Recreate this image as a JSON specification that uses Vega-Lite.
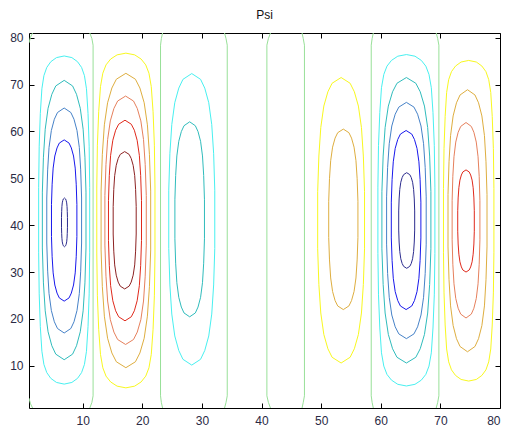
{
"$schema": "https://vega.github.io/schema/vega-lite/v6.json",
"width": 471, "height": 375,
"autosize": {"type": "none"},
"padding": {"left": 29, "top": 33, "right": 5, "bottom": 21},
"background": "white",
"config": {"view": {"stroke": "#000000", "strokeWidth": 1}},
"title": {"text": "Psi", "font": "Liberation Sans", "fontSize": 12, "fontWeight": "normal", "color": "#111111", "offset": 10},
"datasets": {
"c": [
{"k":"A1","v":"m1","x":6.9,"y":76.1},{"k":"A1","v":"m1","x":8.19,"y":75.75},{"k":"A1","v":"m1","x":9.14,"y":74.88},{"k":"A1","v":"m1","x":9.82,"y":73.65},{"k":"A1","v":"m1","x":10.3,"y":71.9},{"k":"A1","v":"m1","x":10.64,"y":69.1},{"k":"A1","v":"m1","x":10.9,"y":63.85},{"k":"A1","v":"m1","x":11.09,"y":56.85},{"k":"A1","v":"m1","x":11.18,"y":48.1},
{"k":"A1","v":"m1","x":11.18,"y":34.1},{"k":"A1","v":"m1","x":11.09,"y":25.35},{"k":"A1","v":"m1","x":10.9,"y":18.35},{"k":"A1","v":"m1","x":10.64,"y":13.1},{"k":"A1","v":"m1","x":10.3,"y":10.3},{"k":"A1","v":"m1","x":9.82,"y":8.55},{"k":"A1","v":"m1","x":9.14,"y":7.32},{"k":"A1","v":"m1","x":8.19,"y":6.45},
{"k":"A1","v":"m1","x":6.9,"y":6.1},
{"k":"A1","v":"m1","x":5.61,"y":6.45},{"k":"A1","v":"m1","x":4.66,"y":7.32},{"k":"A1","v":"m1","x":3.98,"y":8.55},{"k":"A1","v":"m1","x":3.5,"y":10.3},{"k":"A1","v":"m1","x":3.16,"y":13.1},{"k":"A1","v":"m1","x":2.9,"y":18.35},{"k":"A1","v":"m1","x":2.71,"y":25.35},{"k":"A1","v":"m1","x":2.62,"y":34.1},
{"k":"A1","v":"m1","x":2.62,"y":48.1},{"k":"A1","v":"m1","x":2.71,"y":56.85},{"k":"A1","v":"m1","x":2.9,"y":63.85},{"k":"A1","v":"m1","x":3.16,"y":69.1},{"k":"A1","v":"m1","x":3.5,"y":71.9},{"k":"A1","v":"m1","x":3.98,"y":73.65},{"k":"A1","v":"m1","x":4.66,"y":74.88},{"k":"A1","v":"m1","x":5.61,"y":75.75},
{"k":"A1","v":"m1","x":6.9,"y":76.1},

{"k":"A2","v":"m2","x":6.9,"y":70.9},
{"k":"A2","v":"m2","x":8.31,"y":69.71},{"k":"A2","v":"m2","x":8.97,"y":67.92},{"k":"A2","v":"m2","x":9.6,"y":64.94},{"k":"A2","v":"m2","x":10.08,"y":60.47},{"k":"A2","v":"m2","x":10.38,"y":54.51},{"k":"A2","v":"m2","x":10.56,"y":47.06},
{"k":"A2","v":"m2","x":10.56,"y":35.14},{"k":"A2","v":"m2","x":10.38,"y":27.69},{"k":"A2","v":"m2","x":10.08,"y":21.73},{"k":"A2","v":"m2","x":9.6,"y":17.26},{"k":"A2","v":"m2","x":8.97,"y":14.28},{"k":"A2","v":"m2","x":8.31,"y":12.49},
{"k":"A2","v":"m2","x":6.9,"y":11.3},
{"k":"A2","v":"m2","x":5.49,"y":12.49},{"k":"A2","v":"m2","x":4.83,"y":14.28},{"k":"A2","v":"m2","x":4.2,"y":17.26},{"k":"A2","v":"m2","x":3.72,"y":21.73},{"k":"A2","v":"m2","x":3.42,"y":27.69},{"k":"A2","v":"m2","x":3.24,"y":35.14},
{"k":"A2","v":"m2","x":3.24,"y":47.06},{"k":"A2","v":"m2","x":3.42,"y":54.51},{"k":"A2","v":"m2","x":3.72,"y":60.47},{"k":"A2","v":"m2","x":4.2,"y":64.94},{"k":"A2","v":"m2","x":4.83,"y":67.92},{"k":"A2","v":"m2","x":5.49,"y":69.71},
{"k":"A2","v":"m2","x":6.9,"y":70.9},

{"k":"A3","v":"m3","x":6.9,"y":65},
{"k":"A3","v":"m3","x":8.02,"y":64.04},{"k":"A3","v":"m3","x":8.55,"y":62.6},{"k":"A3","v":"m3","x":9.05,"y":60.2},{"k":"A3","v":"m3","x":9.44,"y":56.6},{"k":"A3","v":"m3","x":9.67,"y":51.8},{"k":"A3","v":"m3","x":9.82,"y":45.8},
{"k":"A3","v":"m3","x":9.82,"y":36.2},{"k":"A3","v":"m3","x":9.67,"y":30.2},{"k":"A3","v":"m3","x":9.44,"y":25.4},{"k":"A3","v":"m3","x":9.05,"y":21.8},{"k":"A3","v":"m3","x":8.55,"y":19.4},{"k":"A3","v":"m3","x":8.02,"y":17.96},
{"k":"A3","v":"m3","x":6.9,"y":17},
{"k":"A3","v":"m3","x":5.78,"y":17.96},{"k":"A3","v":"m3","x":5.25,"y":19.4},{"k":"A3","v":"m3","x":4.75,"y":21.8},{"k":"A3","v":"m3","x":4.36,"y":25.4},{"k":"A3","v":"m3","x":4.13,"y":30.2},{"k":"A3","v":"m3","x":3.98,"y":36.2},
{"k":"A3","v":"m3","x":3.98,"y":45.8},{"k":"A3","v":"m3","x":4.13,"y":51.8},{"k":"A3","v":"m3","x":4.36,"y":56.6},{"k":"A3","v":"m3","x":4.75,"y":60.2},{"k":"A3","v":"m3","x":5.25,"y":62.6},{"k":"A3","v":"m3","x":5.78,"y":64.04},
{"k":"A3","v":"m3","x":6.9,"y":65},

{"k":"A4","v":"m4","x":6.9,"y":58.2},
{"k":"A4","v":"m4","x":7.72,"y":57.51},{"k":"A4","v":"m4","x":8.1,"y":56.48},{"k":"A4","v":"m4","x":8.47,"y":54.76},{"k":"A4","v":"m4","x":8.75,"y":52.18},{"k":"A4","v":"m4","x":8.92,"y":48.74},{"k":"A4","v":"m4","x":9.03,"y":44.44},
{"k":"A4","v":"m4","x":9.03,"y":37.56},{"k":"A4","v":"m4","x":8.92,"y":33.26},{"k":"A4","v":"m4","x":8.75,"y":29.82},{"k":"A4","v":"m4","x":8.47,"y":27.24},{"k":"A4","v":"m4","x":8.1,"y":25.52},{"k":"A4","v":"m4","x":7.72,"y":24.49},
{"k":"A4","v":"m4","x":6.9,"y":23.8},
{"k":"A4","v":"m4","x":6.08,"y":24.49},{"k":"A4","v":"m4","x":5.7,"y":25.52},{"k":"A4","v":"m4","x":5.33,"y":27.24},{"k":"A4","v":"m4","x":5.05,"y":29.82},{"k":"A4","v":"m4","x":4.88,"y":33.26},{"k":"A4","v":"m4","x":4.77,"y":37.56},
{"k":"A4","v":"m4","x":4.77,"y":44.44},{"k":"A4","v":"m4","x":4.88,"y":48.74},{"k":"A4","v":"m4","x":5.05,"y":52.18},{"k":"A4","v":"m4","x":5.33,"y":54.76},{"k":"A4","v":"m4","x":5.7,"y":56.48},{"k":"A4","v":"m4","x":6.08,"y":57.51},
{"k":"A4","v":"m4","x":6.9,"y":58.2},

{"k":"A5","v":"m5","x":6.95,"y":45.8},
{"k":"A5","v":"m5","x":7.14,"y":45.59},{"k":"A5","v":"m5","x":7.23,"y":45.28},{"k":"A5","v":"m5","x":7.32,"y":44.76},{"k":"A5","v":"m5","x":7.38,"y":43.98},{"k":"A5","v":"m5","x":7.42,"y":42.94},{"k":"A5","v":"m5","x":7.45,"y":41.64},
{"k":"A5","v":"m5","x":7.45,"y":39.56},{"k":"A5","v":"m5","x":7.42,"y":38.26},{"k":"A5","v":"m5","x":7.38,"y":37.22},{"k":"A5","v":"m5","x":7.32,"y":36.44},{"k":"A5","v":"m5","x":7.23,"y":35.92},{"k":"A5","v":"m5","x":7.14,"y":35.61},
{"k":"A5","v":"m5","x":6.95,"y":35.4},
{"k":"A5","v":"m5","x":6.76,"y":35.61},{"k":"A5","v":"m5","x":6.67,"y":35.92},{"k":"A5","v":"m5","x":6.58,"y":36.44},{"k":"A5","v":"m5","x":6.52,"y":37.22},{"k":"A5","v":"m5","x":6.48,"y":38.26},{"k":"A5","v":"m5","x":6.45,"y":39.56},
{"k":"A5","v":"m5","x":6.45,"y":41.64},{"k":"A5","v":"m5","x":6.48,"y":42.94},{"k":"A5","v":"m5","x":6.52,"y":43.98},{"k":"A5","v":"m5","x":6.58,"y":44.76},{"k":"A5","v":"m5","x":6.67,"y":45.28},{"k":"A5","v":"m5","x":6.76,"y":45.59},
{"k":"A5","v":"m5","x":6.95,"y":45.8},

{"k":"B1","v":"p1","x":17.25,"y":76.7},
{"k":"B1","v":"p1","x":18.72,"y":76.34},{"k":"B1","v":"p1","x":19.8,"y":75.45},{"k":"B1","v":"p1","x":20.58,"y":74.2},{"k":"B1","v":"p1","x":21.12,"y":72.42},{"k":"B1","v":"p1","x":21.51,"y":69.56},{"k":"B1","v":"p1","x":21.81,"y":64.21},{"k":"B1","v":"p1","x":22.03,"y":57.07},{"k":"B1","v":"p1","x":22.13,"y":48.14},
{"k":"B1","v":"p1","x":22.13,"y":33.86},{"k":"B1","v":"p1","x":22.03,"y":24.93},{"k":"B1","v":"p1","x":21.81,"y":17.79},{"k":"B1","v":"p1","x":21.51,"y":12.44},{"k":"B1","v":"p1","x":21.12,"y":9.58},{"k":"B1","v":"p1","x":20.58,"y":7.8},{"k":"B1","v":"p1","x":19.8,"y":6.55},{"k":"B1","v":"p1","x":18.72,"y":5.66},
{"k":"B1","v":"p1","x":17.25,"y":5.3},
{"k":"B1","v":"p1","x":15.78,"y":5.66},{"k":"B1","v":"p1","x":14.7,"y":6.55},{"k":"B1","v":"p1","x":13.92,"y":7.8},{"k":"B1","v":"p1","x":13.38,"y":9.58},{"k":"B1","v":"p1","x":12.99,"y":12.44},{"k":"B1","v":"p1","x":12.69,"y":17.79},{"k":"B1","v":"p1","x":12.47,"y":24.93},{"k":"B1","v":"p1","x":12.37,"y":33.86},
{"k":"B1","v":"p1","x":12.37,"y":48.14},{"k":"B1","v":"p1","x":12.47,"y":57.07},{"k":"B1","v":"p1","x":12.69,"y":64.21},{"k":"B1","v":"p1","x":12.99,"y":69.56},{"k":"B1","v":"p1","x":13.38,"y":72.42},{"k":"B1","v":"p1","x":13.92,"y":74.2},{"k":"B1","v":"p1","x":14.7,"y":75.45},{"k":"B1","v":"p1","x":15.78,"y":76.34},
{"k":"B1","v":"p1","x":17.25,"y":76.7},

{"k":"B2","v":"p2","x":17.25,"y":72.4},
{"k":"B2","v":"p2","x":18.85,"y":71.14},{"k":"B2","v":"p2","x":19.6,"y":69.26},{"k":"B2","v":"p2","x":20.32,"y":66.12},{"k":"B2","v":"p2","x":20.86,"y":61.41},{"k":"B2","v":"p2","x":21.2,"y":55.13},{"k":"B2","v":"p2","x":21.41,"y":47.28},
{"k":"B2","v":"p2","x":21.41,"y":34.72},{"k":"B2","v":"p2","x":21.2,"y":26.87},{"k":"B2","v":"p2","x":20.86,"y":20.59},{"k":"B2","v":"p2","x":20.32,"y":15.88},{"k":"B2","v":"p2","x":19.6,"y":12.74},{"k":"B2","v":"p2","x":18.85,"y":10.86},
{"k":"B2","v":"p2","x":17.25,"y":9.6},
{"k":"B2","v":"p2","x":15.65,"y":10.86},{"k":"B2","v":"p2","x":14.9,"y":12.74},{"k":"B2","v":"p2","x":14.18,"y":15.88},{"k":"B2","v":"p2","x":13.64,"y":20.59},{"k":"B2","v":"p2","x":13.3,"y":26.87},{"k":"B2","v":"p2","x":13.09,"y":34.72},
{"k":"B2","v":"p2","x":13.09,"y":47.28},{"k":"B2","v":"p2","x":13.3,"y":55.13},{"k":"B2","v":"p2","x":13.64,"y":61.41},{"k":"B2","v":"p2","x":14.18,"y":66.12},{"k":"B2","v":"p2","x":14.9,"y":69.26},{"k":"B2","v":"p2","x":15.65,"y":71.14},
{"k":"B2","v":"p2","x":17.25,"y":72.4},

{"k":"B3","v":"p3","x":17.2,"y":67.55},
{"k":"B3","v":"p3","x":18.53,"y":66.49},{"k":"B3","v":"p3","x":19.16,"y":64.9},{"k":"B3","v":"p3","x":19.76,"y":62.25},{"k":"B3","v":"p3","x":20.21,"y":58.28},{"k":"B3","v":"p3","x":20.49,"y":52.98},{"k":"B3","v":"p3","x":20.67,"y":46.35},
{"k":"B3","v":"p3","x":20.67,"y":35.75},{"k":"B3","v":"p3","x":20.49,"y":29.12},{"k":"B3","v":"p3","x":20.21,"y":23.82},{"k":"B3","v":"p3","x":19.76,"y":19.85},{"k":"B3","v":"p3","x":19.16,"y":17.2},{"k":"B3","v":"p3","x":18.53,"y":15.61},
{"k":"B3","v":"p3","x":17.2,"y":14.55},
{"k":"B3","v":"p3","x":15.87,"y":15.61},{"k":"B3","v":"p3","x":15.24,"y":17.2},{"k":"B3","v":"p3","x":14.64,"y":19.85},{"k":"B3","v":"p3","x":14.19,"y":23.82},{"k":"B3","v":"p3","x":13.91,"y":29.12},{"k":"B3","v":"p3","x":13.73,"y":35.75},
{"k":"B3","v":"p3","x":13.73,"y":46.35},{"k":"B3","v":"p3","x":13.91,"y":52.98},{"k":"B3","v":"p3","x":14.19,"y":58.28},{"k":"B3","v":"p3","x":14.64,"y":62.25},{"k":"B3","v":"p3","x":15.24,"y":64.9},{"k":"B3","v":"p3","x":15.87,"y":66.49},
{"k":"B3","v":"p3","x":17.2,"y":67.55},

{"k":"B4","v":"p4","x":17.1,"y":62.4},
{"k":"B4","v":"p4","x":18.16,"y":61.54},{"k":"B4","v":"p4","x":18.67,"y":60.26},{"k":"B4","v":"p4","x":19.14,"y":58.12},{"k":"B4","v":"p4","x":19.51,"y":54.91},{"k":"B4","v":"p4","x":19.73,"y":50.63},{"k":"B4","v":"p4","x":19.87,"y":45.28},
{"k":"B4","v":"p4","x":19.87,"y":36.72},{"k":"B4","v":"p4","x":19.73,"y":31.37},{"k":"B4","v":"p4","x":19.51,"y":27.09},{"k":"B4","v":"p4","x":19.14,"y":23.88},{"k":"B4","v":"p4","x":18.67,"y":21.74},{"k":"B4","v":"p4","x":18.16,"y":20.46},
{"k":"B4","v":"p4","x":17.1,"y":19.6},
{"k":"B4","v":"p4","x":16.04,"y":20.46},{"k":"B4","v":"p4","x":15.53,"y":21.74},{"k":"B4","v":"p4","x":15.06,"y":23.88},{"k":"B4","v":"p4","x":14.69,"y":27.09},{"k":"B4","v":"p4","x":14.47,"y":31.37},{"k":"B4","v":"p4","x":14.33,"y":36.72},
{"k":"B4","v":"p4","x":14.33,"y":45.28},{"k":"B4","v":"p4","x":14.47,"y":50.63},{"k":"B4","v":"p4","x":14.69,"y":54.91},{"k":"B4","v":"p4","x":15.06,"y":58.12},{"k":"B4","v":"p4","x":15.53,"y":60.26},{"k":"B4","v":"p4","x":16.04,"y":61.54},
{"k":"B4","v":"p4","x":17.1,"y":62.4},

{"k":"B5","v":"p5","x":17.05,"y":55.7},
{"k":"B5","v":"p5","x":17.79,"y":55.11},{"k":"B5","v":"p5","x":18.14,"y":54.24},{"k":"B5","v":"p5","x":18.47,"y":52.77},{"k":"B5","v":"p5","x":18.73,"y":50.57},{"k":"B5","v":"p5","x":18.88,"y":47.64},{"k":"B5","v":"p5","x":18.98,"y":43.98},
{"k":"B5","v":"p5","x":18.98,"y":38.12},{"k":"B5","v":"p5","x":18.88,"y":34.46},{"k":"B5","v":"p5","x":18.73,"y":31.53},{"k":"B5","v":"p5","x":18.47,"y":29.33},{"k":"B5","v":"p5","x":18.14,"y":27.86},{"k":"B5","v":"p5","x":17.79,"y":26.99},
{"k":"B5","v":"p5","x":17.05,"y":26.4},
{"k":"B5","v":"p5","x":16.31,"y":26.99},{"k":"B5","v":"p5","x":15.96,"y":27.86},{"k":"B5","v":"p5","x":15.63,"y":29.33},{"k":"B5","v":"p5","x":15.37,"y":31.53},{"k":"B5","v":"p5","x":15.22,"y":34.46},{"k":"B5","v":"p5","x":15.12,"y":38.12},
{"k":"B5","v":"p5","x":15.12,"y":43.98},{"k":"B5","v":"p5","x":15.22,"y":47.64},{"k":"B5","v":"p5","x":15.37,"y":50.57},{"k":"B5","v":"p5","x":15.63,"y":52.77},{"k":"B5","v":"p5","x":15.96,"y":54.24},{"k":"B5","v":"p5","x":16.31,"y":55.11},
{"k":"B5","v":"p5","x":17.05,"y":55.7},

{"k":"C1","v":"m1","x":28.3,"y":72.35},
{"k":"C1","v":"m1","x":29.78,"y":71.11},{"k":"C1","v":"m1","x":30.48,"y":69.24},{"k":"C1","v":"m1","x":31.15,"y":66.13},{"k":"C1","v":"m1","x":31.65,"y":61.47},{"k":"C1","v":"m1","x":31.97,"y":55.25},{"k":"C1","v":"m1","x":32.16,"y":47.47},
{"k":"C1","v":"m1","x":32.16,"y":35.03},{"k":"C1","v":"m1","x":31.97,"y":27.25},{"k":"C1","v":"m1","x":31.65,"y":21.03},{"k":"C1","v":"m1","x":31.15,"y":16.37},{"k":"C1","v":"m1","x":30.48,"y":13.26},{"k":"C1","v":"m1","x":29.78,"y":11.39},
{"k":"C1","v":"m1","x":28.3,"y":10.15},
{"k":"C1","v":"m1","x":26.82,"y":11.39},{"k":"C1","v":"m1","x":26.12,"y":13.26},{"k":"C1","v":"m1","x":25.45,"y":16.37},{"k":"C1","v":"m1","x":24.95,"y":21.03},{"k":"C1","v":"m1","x":24.63,"y":27.25},{"k":"C1","v":"m1","x":24.44,"y":35.03},
{"k":"C1","v":"m1","x":24.44,"y":47.47},{"k":"C1","v":"m1","x":24.63,"y":55.25},{"k":"C1","v":"m1","x":24.95,"y":61.47},{"k":"C1","v":"m1","x":25.45,"y":66.13},{"k":"C1","v":"m1","x":26.12,"y":69.24},{"k":"C1","v":"m1","x":26.82,"y":71.11},
{"k":"C1","v":"m1","x":28.3,"y":72.35},

{"k":"C2","v":"m2","x":27.95,"y":62.05},
{"k":"C2","v":"m2","x":28.9,"y":61.22},{"k":"C2","v":"m2","x":29.35,"y":59.97},{"k":"C2","v":"m2","x":29.78,"y":57.89},{"k":"C2","v":"m2","x":30.1,"y":54.77},{"k":"C2","v":"m2","x":30.3,"y":50.61},{"k":"C2","v":"m2","x":30.43,"y":45.41},
{"k":"C2","v":"m2","x":30.43,"y":37.09},{"k":"C2","v":"m2","x":30.3,"y":31.89},{"k":"C2","v":"m2","x":30.1,"y":27.73},{"k":"C2","v":"m2","x":29.78,"y":24.61},{"k":"C2","v":"m2","x":29.35,"y":22.53},{"k":"C2","v":"m2","x":28.9,"y":21.28},
{"k":"C2","v":"m2","x":27.95,"y":20.45},
{"k":"C2","v":"m2","x":27.0,"y":21.28},{"k":"C2","v":"m2","x":26.55,"y":22.53},{"k":"C2","v":"m2","x":26.12,"y":24.61},{"k":"C2","v":"m2","x":25.8,"y":27.73},{"k":"C2","v":"m2","x":25.6,"y":31.89},{"k":"C2","v":"m2","x":25.47,"y":37.09},
{"k":"C2","v":"m2","x":25.47,"y":45.41},{"k":"C2","v":"m2","x":25.6,"y":50.61},{"k":"C2","v":"m2","x":25.8,"y":54.77},{"k":"C2","v":"m2","x":26.12,"y":57.89},{"k":"C2","v":"m2","x":26.55,"y":59.97},{"k":"C2","v":"m2","x":27.0,"y":61.22},
{"k":"C2","v":"m2","x":27.95,"y":62.05},

{"k":"E1","v":"p1","x":53.35,"y":71.5},
{"k":"E1","v":"p1","x":54.86,"y":70.28},{"k":"E1","v":"p1","x":55.57,"y":68.46},{"k":"E1","v":"p1","x":56.25,"y":65.41},{"k":"E1","v":"p1","x":56.76,"y":60.84},{"k":"E1","v":"p1","x":57.08,"y":54.75},{"k":"E1","v":"p1","x":57.28,"y":47.14},
{"k":"E1","v":"p1","x":57.28,"y":34.96},{"k":"E1","v":"p1","x":57.08,"y":27.35},{"k":"E1","v":"p1","x":56.76,"y":21.26},{"k":"E1","v":"p1","x":56.25,"y":16.69},{"k":"E1","v":"p1","x":55.57,"y":13.64},{"k":"E1","v":"p1","x":54.86,"y":11.82},
{"k":"E1","v":"p1","x":53.35,"y":10.6},
{"k":"E1","v":"p1","x":51.84,"y":11.82},{"k":"E1","v":"p1","x":51.13,"y":13.64},{"k":"E1","v":"p1","x":50.45,"y":16.69},{"k":"E1","v":"p1","x":49.94,"y":21.26},{"k":"E1","v":"p1","x":49.62,"y":27.35},{"k":"E1","v":"p1","x":49.42,"y":34.96},
{"k":"E1","v":"p1","x":49.42,"y":47.14},{"k":"E1","v":"p1","x":49.62,"y":54.75},{"k":"E1","v":"p1","x":49.94,"y":60.84},{"k":"E1","v":"p1","x":50.45,"y":65.41},{"k":"E1","v":"p1","x":51.13,"y":68.46},{"k":"E1","v":"p1","x":51.84,"y":70.28},
{"k":"E1","v":"p1","x":53.35,"y":71.5},

{"k":"E2","v":"p2","x":53.72,"y":60.5},
{"k":"E2","v":"p2","x":54.66,"y":59.73},{"k":"E2","v":"p2","x":55.1,"y":58.58},{"k":"E2","v":"p2","x":55.52,"y":56.65},{"k":"E2","v":"p2","x":55.84,"y":53.76},{"k":"E2","v":"p2","x":56.04,"y":49.91},{"k":"E2","v":"p2","x":56.17,"y":45.1},
{"k":"E2","v":"p2","x":56.17,"y":37.4},{"k":"E2","v":"p2","x":56.04,"y":32.59},{"k":"E2","v":"p2","x":55.84,"y":28.74},{"k":"E2","v":"p2","x":55.52,"y":25.85},{"k":"E2","v":"p2","x":55.1,"y":23.92},{"k":"E2","v":"p2","x":54.66,"y":22.77},
{"k":"E2","v":"p2","x":53.72,"y":22},
{"k":"E2","v":"p2","x":52.78,"y":22.77},{"k":"E2","v":"p2","x":52.34,"y":23.92},{"k":"E2","v":"p2","x":51.92,"y":25.85},{"k":"E2","v":"p2","x":51.6,"y":28.74},{"k":"E2","v":"p2","x":51.4,"y":32.59},{"k":"E2","v":"p2","x":51.27,"y":37.4},
{"k":"E2","v":"p2","x":51.27,"y":45.1},{"k":"E2","v":"p2","x":51.4,"y":49.91},{"k":"E2","v":"p2","x":51.6,"y":53.76},{"k":"E2","v":"p2","x":51.92,"y":56.65},{"k":"E2","v":"p2","x":52.34,"y":58.58},{"k":"E2","v":"p2","x":52.78,"y":59.73},
{"k":"E2","v":"p2","x":53.72,"y":60.5},

{"k":"F1","v":"m1","x":64.3,"y":76.4},
{"k":"F1","v":"m1","x":65.74,"y":76.05},{"k":"F1","v":"m1","x":66.8,"y":75.16},{"k":"F1","v":"m1","x":67.56,"y":73.93},{"k":"F1","v":"m1","x":68.09,"y":72.16},{"k":"F1","v":"m1","x":68.48,"y":69.33},{"k":"F1","v":"m1","x":68.76,"y":64.03},{"k":"F1","v":"m1","x":68.98,"y":56.96},{"k":"F1","v":"m1","x":69.08,"y":48.12},
{"k":"F1","v":"m1","x":69.08,"y":33.98},{"k":"F1","v":"m1","x":68.98,"y":25.14},{"k":"F1","v":"m1","x":68.76,"y":18.07},{"k":"F1","v":"m1","x":68.48,"y":12.77},{"k":"F1","v":"m1","x":68.09,"y":9.94},{"k":"F1","v":"m1","x":67.56,"y":8.17},{"k":"F1","v":"m1","x":66.8,"y":6.94},{"k":"F1","v":"m1","x":65.74,"y":6.05},
{"k":"F1","v":"m1","x":64.3,"y":5.7},
{"k":"F1","v":"m1","x":62.86,"y":6.05},{"k":"F1","v":"m1","x":61.8,"y":6.94},{"k":"F1","v":"m1","x":61.04,"y":8.17},{"k":"F1","v":"m1","x":60.51,"y":9.94},{"k":"F1","v":"m1","x":60.12,"y":12.77},{"k":"F1","v":"m1","x":59.84,"y":18.07},{"k":"F1","v":"m1","x":59.62,"y":25.14},{"k":"F1","v":"m1","x":59.52,"y":33.98},
{"k":"F1","v":"m1","x":59.52,"y":48.12},{"k":"F1","v":"m1","x":59.62,"y":56.96},{"k":"F1","v":"m1","x":59.84,"y":64.03},{"k":"F1","v":"m1","x":60.12,"y":69.33},{"k":"F1","v":"m1","x":60.51,"y":72.16},{"k":"F1","v":"m1","x":61.04,"y":73.93},{"k":"F1","v":"m1","x":61.8,"y":75.16},{"k":"F1","v":"m1","x":62.86,"y":76.05},
{"k":"F1","v":"m1","x":64.3,"y":76.4},

{"k":"F2","v":"m2","x":64.3,"y":71.5},
{"k":"F2","v":"m2","x":65.88,"y":70.28},{"k":"F2","v":"m2","x":66.62,"y":68.46},{"k":"F2","v":"m2","x":67.33,"y":65.41},{"k":"F2","v":"m2","x":67.87,"y":60.84},{"k":"F2","v":"m2","x":68.2,"y":54.75},{"k":"F2","v":"m2","x":68.41,"y":47.14},
{"k":"F2","v":"m2","x":68.41,"y":34.96},{"k":"F2","v":"m2","x":68.2,"y":27.35},{"k":"F2","v":"m2","x":67.87,"y":21.26},{"k":"F2","v":"m2","x":67.33,"y":16.69},{"k":"F2","v":"m2","x":66.62,"y":13.64},{"k":"F2","v":"m2","x":65.88,"y":11.82},
{"k":"F2","v":"m2","x":64.3,"y":10.6},
{"k":"F2","v":"m2","x":62.72,"y":11.82},{"k":"F2","v":"m2","x":61.98,"y":13.64},{"k":"F2","v":"m2","x":61.27,"y":16.69},{"k":"F2","v":"m2","x":60.73,"y":21.26},{"k":"F2","v":"m2","x":60.4,"y":27.35},{"k":"F2","v":"m2","x":60.19,"y":34.96},
{"k":"F2","v":"m2","x":60.19,"y":47.14},{"k":"F2","v":"m2","x":60.4,"y":54.75},{"k":"F2","v":"m2","x":60.73,"y":60.84},{"k":"F2","v":"m2","x":61.27,"y":65.41},{"k":"F2","v":"m2","x":61.98,"y":68.46},{"k":"F2","v":"m2","x":62.72,"y":70.28},
{"k":"F2","v":"m2","x":64.3,"y":71.5},

{"k":"F3","v":"m3","x":64.3,"y":66.2},
{"k":"F3","v":"m3","x":65.57,"y":65.19},{"k":"F3","v":"m3","x":66.18,"y":63.68},{"k":"F3","v":"m3","x":66.75,"y":61.16},{"k":"F3","v":"m3","x":67.18,"y":57.38},{"k":"F3","v":"m3","x":67.45,"y":52.34},{"k":"F3","v":"m3","x":67.62,"y":46.04},
{"k":"F3","v":"m3","x":67.62,"y":35.96},{"k":"F3","v":"m3","x":67.45,"y":29.66},{"k":"F3","v":"m3","x":67.18,"y":24.62},{"k":"F3","v":"m3","x":66.75,"y":20.84},{"k":"F3","v":"m3","x":66.18,"y":18.32},{"k":"F3","v":"m3","x":65.57,"y":16.81},
{"k":"F3","v":"m3","x":64.3,"y":15.8},
{"k":"F3","v":"m3","x":63.03,"y":16.81},{"k":"F3","v":"m3","x":62.42,"y":18.32},{"k":"F3","v":"m3","x":61.85,"y":20.84},{"k":"F3","v":"m3","x":61.42,"y":24.62},{"k":"F3","v":"m3","x":61.15,"y":29.66},{"k":"F3","v":"m3","x":60.98,"y":35.96},
{"k":"F3","v":"m3","x":60.98,"y":46.04},{"k":"F3","v":"m3","x":61.15,"y":52.34},{"k":"F3","v":"m3","x":61.42,"y":57.38},{"k":"F3","v":"m3","x":61.85,"y":61.16},{"k":"F3","v":"m3","x":62.42,"y":63.68},{"k":"F3","v":"m3","x":63.03,"y":65.19},
{"k":"F3","v":"m3","x":64.3,"y":66.2},

{"k":"F4","v":"m4","x":64.25,"y":60.2},
{"k":"F4","v":"m4","x":65.2,"y":59.44},{"k":"F4","v":"m4","x":65.65,"y":58.29},{"k":"F4","v":"m4","x":66.08,"y":56.38},{"k":"F4","v":"m4","x":66.4,"y":53.52},{"k":"F4","v":"m4","x":66.6,"y":49.7},{"k":"F4","v":"m4","x":66.73,"y":44.92},
{"k":"F4","v":"m4","x":66.73,"y":37.28},{"k":"F4","v":"m4","x":66.6,"y":32.5},{"k":"F4","v":"m4","x":66.4,"y":28.68},{"k":"F4","v":"m4","x":66.08,"y":25.82},{"k":"F4","v":"m4","x":65.65,"y":23.91},{"k":"F4","v":"m4","x":65.2,"y":22.76},
{"k":"F4","v":"m4","x":64.25,"y":22},
{"k":"F4","v":"m4","x":63.3,"y":22.76},{"k":"F4","v":"m4","x":62.85,"y":23.91},{"k":"F4","v":"m4","x":62.42,"y":25.82},{"k":"F4","v":"m4","x":62.1,"y":28.68},{"k":"F4","v":"m4","x":61.9,"y":32.5},{"k":"F4","v":"m4","x":61.77,"y":37.28},
{"k":"F4","v":"m4","x":61.77,"y":44.92},{"k":"F4","v":"m4","x":61.9,"y":49.7},{"k":"F4","v":"m4","x":62.1,"y":53.52},{"k":"F4","v":"m4","x":62.42,"y":56.38},{"k":"F4","v":"m4","x":62.85,"y":58.29},{"k":"F4","v":"m4","x":63.3,"y":59.44},
{"k":"F4","v":"m4","x":64.25,"y":60.2},

{"k":"F5","v":"m5","x":64.35,"y":51.2},
{"k":"F5","v":"m5","x":64.86,"y":50.79},{"k":"F5","v":"m5","x":65.11,"y":50.18},{"k":"F5","v":"m5","x":65.34,"y":49.16},{"k":"F5","v":"m5","x":65.51,"y":47.63},{"k":"F5","v":"m5","x":65.62,"y":45.59},{"k":"F5","v":"m5","x":65.69,"y":43.04},
{"k":"F5","v":"m5","x":65.69,"y":38.96},{"k":"F5","v":"m5","x":65.62,"y":36.41},{"k":"F5","v":"m5","x":65.51,"y":34.37},{"k":"F5","v":"m5","x":65.34,"y":32.84},{"k":"F5","v":"m5","x":65.11,"y":31.82},{"k":"F5","v":"m5","x":64.86,"y":31.21},
{"k":"F5","v":"m5","x":64.35,"y":30.8},
{"k":"F5","v":"m5","x":63.84,"y":31.21},{"k":"F5","v":"m5","x":63.59,"y":31.82},{"k":"F5","v":"m5","x":63.36,"y":32.84},{"k":"F5","v":"m5","x":63.19,"y":34.37},{"k":"F5","v":"m5","x":63.08,"y":36.41},{"k":"F5","v":"m5","x":63.01,"y":38.96},
{"k":"F5","v":"m5","x":63.01,"y":43.04},{"k":"F5","v":"m5","x":63.08,"y":45.59},{"k":"F5","v":"m5","x":63.19,"y":47.63},{"k":"F5","v":"m5","x":63.36,"y":49.16},{"k":"F5","v":"m5","x":63.59,"y":50.18},{"k":"F5","v":"m5","x":63.84,"y":50.79},
{"k":"F5","v":"m5","x":64.35,"y":51.2},

{"k":"G1","v":"p1","x":74.75,"y":75.15},
{"k":"G1","v":"p1","x":76.03,"y":74.81},{"k":"G1","v":"p1","x":76.96,"y":73.95},{"k":"G1","v":"p1","x":77.64,"y":72.76},{"k":"G1","v":"p1","x":78.11,"y":71.05},{"k":"G1","v":"p1","x":78.45,"y":68.31},{"k":"G1","v":"p1","x":78.7,"y":63.18},{"k":"G1","v":"p1","x":78.89,"y":56.34},{"k":"G1","v":"p1","x":78.98,"y":47.79},
{"k":"G1","v":"p1","x":78.98,"y":34.11},{"k":"G1","v":"p1","x":78.89,"y":25.56},{"k":"G1","v":"p1","x":78.7,"y":18.72},{"k":"G1","v":"p1","x":78.45,"y":13.59},{"k":"G1","v":"p1","x":78.11,"y":10.85},{"k":"G1","v":"p1","x":77.64,"y":9.14},{"k":"G1","v":"p1","x":76.96,"y":7.95},{"k":"G1","v":"p1","x":76.03,"y":7.09},
{"k":"G1","v":"p1","x":74.75,"y":6.75},
{"k":"G1","v":"p1","x":73.47,"y":7.09},{"k":"G1","v":"p1","x":72.54,"y":7.95},{"k":"G1","v":"p1","x":71.86,"y":9.14},{"k":"G1","v":"p1","x":71.39,"y":10.85},{"k":"G1","v":"p1","x":71.05,"y":13.59},{"k":"G1","v":"p1","x":70.8,"y":18.72},{"k":"G1","v":"p1","x":70.61,"y":25.56},{"k":"G1","v":"p1","x":70.52,"y":34.11},
{"k":"G1","v":"p1","x":70.52,"y":47.79},{"k":"G1","v":"p1","x":70.61,"y":56.34},{"k":"G1","v":"p1","x":70.8,"y":63.18},{"k":"G1","v":"p1","x":71.05,"y":68.31},{"k":"G1","v":"p1","x":71.39,"y":71.05},{"k":"G1","v":"p1","x":71.86,"y":72.76},{"k":"G1","v":"p1","x":72.54,"y":73.95},{"k":"G1","v":"p1","x":73.47,"y":74.81},
{"k":"G1","v":"p1","x":74.75,"y":75.15},

{"k":"G2","v":"p2","x":74.55,"y":68.9},
{"k":"G2","v":"p2","x":75.8,"y":67.78},{"k":"G2","v":"p2","x":76.4,"y":66.11},{"k":"G2","v":"p2","x":76.96,"y":63.31},{"k":"G2","v":"p2","x":77.39,"y":59.12},{"k":"G2","v":"p2","x":77.65,"y":53.53},{"k":"G2","v":"p2","x":77.82,"y":46.54},
{"k":"G2","v":"p2","x":77.82,"y":35.36},{"k":"G2","v":"p2","x":77.65,"y":28.37},{"k":"G2","v":"p2","x":77.39,"y":22.78},{"k":"G2","v":"p2","x":76.96,"y":18.59},{"k":"G2","v":"p2","x":76.4,"y":15.79},{"k":"G2","v":"p2","x":75.8,"y":14.12},
{"k":"G2","v":"p2","x":74.55,"y":13},
{"k":"G2","v":"p2","x":73.3,"y":14.12},{"k":"G2","v":"p2","x":72.7,"y":15.79},{"k":"G2","v":"p2","x":72.14,"y":18.59},{"k":"G2","v":"p2","x":71.71,"y":22.78},{"k":"G2","v":"p2","x":71.45,"y":28.37},{"k":"G2","v":"p2","x":71.28,"y":35.36},
{"k":"G2","v":"p2","x":71.28,"y":46.54},{"k":"G2","v":"p2","x":71.45,"y":53.53},{"k":"G2","v":"p2","x":71.71,"y":59.12},{"k":"G2","v":"p2","x":72.14,"y":63.31},{"k":"G2","v":"p2","x":72.7,"y":66.11},{"k":"G2","v":"p2","x":73.3,"y":67.78},
{"k":"G2","v":"p2","x":74.55,"y":68.9},

{"k":"G3","v":"p3","x":74.3,"y":61.9},
{"k":"G3","v":"p3","x":75.19,"y":61.07},{"k":"G3","v":"p3","x":75.62,"y":59.82},{"k":"G3","v":"p3","x":76.02,"y":57.73},{"k":"G3","v":"p3","x":76.32,"y":54.6},{"k":"G3","v":"p3","x":76.51,"y":50.43},{"k":"G3","v":"p3","x":76.63,"y":45.22},
{"k":"G3","v":"p3","x":76.63,"y":36.88},{"k":"G3","v":"p3","x":76.51,"y":31.67},{"k":"G3","v":"p3","x":76.32,"y":27.5},{"k":"G3","v":"p3","x":76.02,"y":24.37},{"k":"G3","v":"p3","x":75.62,"y":22.28},{"k":"G3","v":"p3","x":75.19,"y":21.03},
{"k":"G3","v":"p3","x":74.3,"y":20.2},
{"k":"G3","v":"p3","x":73.41,"y":21.03},{"k":"G3","v":"p3","x":72.98,"y":22.28},{"k":"G3","v":"p3","x":72.58,"y":24.37},{"k":"G3","v":"p3","x":72.28,"y":27.5},{"k":"G3","v":"p3","x":72.09,"y":31.67},{"k":"G3","v":"p3","x":71.97,"y":36.88},
{"k":"G3","v":"p3","x":71.97,"y":45.22},{"k":"G3","v":"p3","x":72.09,"y":50.43},{"k":"G3","v":"p3","x":72.28,"y":54.6},{"k":"G3","v":"p3","x":72.58,"y":57.73},{"k":"G3","v":"p3","x":72.98,"y":59.82},{"k":"G3","v":"p3","x":73.41,"y":61.07},
{"k":"G3","v":"p3","x":74.3,"y":61.9},

{"k":"G4","v":"p4","x":74.3,"y":51.8},
{"k":"G4","v":"p4","x":74.83,"y":51.36},{"k":"G4","v":"p4","x":75.08,"y":50.71},{"k":"G4","v":"p4","x":75.32,"y":49.62},{"k":"G4","v":"p4","x":75.5,"y":47.99},{"k":"G4","v":"p4","x":75.62,"y":45.81},{"k":"G4","v":"p4","x":75.69,"y":43.08},
{"k":"G4","v":"p4","x":75.69,"y":38.72},{"k":"G4","v":"p4","x":75.62,"y":35.99},{"k":"G4","v":"p4","x":75.5,"y":33.81},{"k":"G4","v":"p4","x":75.32,"y":32.18},{"k":"G4","v":"p4","x":75.08,"y":31.09},{"k":"G4","v":"p4","x":74.83,"y":30.44},
{"k":"G4","v":"p4","x":74.3,"y":30},
{"k":"G4","v":"p4","x":73.77,"y":30.44},{"k":"G4","v":"p4","x":73.52,"y":31.09},{"k":"G4","v":"p4","x":73.28,"y":32.18},{"k":"G4","v":"p4","x":73.1,"y":33.81},{"k":"G4","v":"p4","x":72.98,"y":35.99},{"k":"G4","v":"p4","x":72.91,"y":38.72},
{"k":"G4","v":"p4","x":72.91,"y":43.08},{"k":"G4","v":"p4","x":72.98,"y":45.81},{"k":"G4","v":"p4","x":73.1,"y":47.99},{"k":"G4","v":"p4","x":73.28,"y":49.62},{"k":"G4","v":"p4","x":73.52,"y":50.71},{"k":"G4","v":"p4","x":73.77,"y":51.36},
{"k":"G4","v":"p4","x":74.3,"y":51.8}
],
"z": [
{"k":"g1","v":"z","x":11.2,"y":1},{"k":"g1","v":"z","x":11.55,"y":2.2},{"k":"g1","v":"z","x":11.75,"y":3.6},{"k":"g1","v":"z","x":11.75,"y":78.4},{"k":"g1","v":"z","x":11.55,"y":79.8},{"k":"g1","v":"z","x":11.2,"y":81},
{"k":"g2","v":"z","x":23.4,"y":1},{"k":"g2","v":"z","x":23.2,"y":2.2},{"k":"g2","v":"z","x":23.06,"y":3.6},{"k":"g2","v":"z","x":23.06,"y":78.4},{"k":"g2","v":"z","x":23.2,"y":79.8},{"k":"g2","v":"z","x":23.4,"y":81},
{"k":"g3","v":"z","x":33.8,"y":1},{"k":"g3","v":"z","x":34.05,"y":2.2},{"k":"g3","v":"z","x":34.25,"y":3.6},{"k":"g3","v":"z","x":34.25,"y":78.4},{"k":"g3","v":"z","x":34.05,"y":79.8},{"k":"g3","v":"z","x":33.8,"y":81},
{"k":"g4","v":"z","x":41.5,"y":1},{"k":"g4","v":"z","x":41.15,"y":2.2},{"k":"g4","v":"z","x":40.9,"y":3.6},{"k":"g4","v":"z","x":40.9,"y":78.4},{"k":"g4","v":"z","x":41.15,"y":79.8},{"k":"g4","v":"z","x":41.5,"y":81},
{"k":"g5","v":"z","x":46.8,"y":1},{"k":"g5","v":"z","x":47.0,"y":2.2},{"k":"g5","v":"z","x":47.2,"y":3.6},{"k":"g5","v":"z","x":47.2,"y":78.4},{"k":"g5","v":"z","x":47.0,"y":79.8},{"k":"g5","v":"z","x":46.8,"y":81},
{"k":"g6","v":"z","x":58.75,"y":1},{"k":"g6","v":"z","x":58.55,"y":2.2},{"k":"g6","v":"z","x":58.4,"y":3.6},{"k":"g6","v":"z","x":58.4,"y":78.4},{"k":"g6","v":"z","x":58.55,"y":79.8},{"k":"g6","v":"z","x":58.75,"y":81},
{"k":"g7","v":"z","x":69.3,"y":1},{"k":"g7","v":"z","x":69.55,"y":2.2},{"k":"g7","v":"z","x":69.75,"y":3.6},{"k":"g7","v":"z","x":69.75,"y":78.4},{"k":"g7","v":"z","x":69.55,"y":79.8},{"k":"g7","v":"z","x":69.3,"y":81},
{"k":"ga","v":"z","x":1,"y":78.9},{"k":"ga","v":"z","x":1.25,"y":80.1},{"k":"ga","v":"z","x":1.6,"y":81},
{"k":"gb","v":"z","x":1,"y":3.1},{"k":"gb","v":"z","x":1.25,"y":1.9},{"k":"gb","v":"z","x":1.6,"y":1}
]
},
"resolve": {"axis": {"x": "independent", "y": "independent"}},
"layer": [
{
"data": {"name": "z"},
"mark": {"type": "line", "strokeWidth": 1, "clip": true},
"encoding": {
"x": {"field": "x", "type": "quantitative", "scale": {"domain": [1, 80], "nice": false, "zero": false},
 "axis": {"orient": "top", "values": [10,20,30,40,50,60,70,80], "labels": false, "title": null, "domain": false, "grid": false, "tickSize": -5, "tickColor": "#000000"}},
"y": {"field": "y", "type": "quantitative", "scale": {"domain": [1, 81], "nice": false, "zero": false},
 "axis": {"orient": "right", "values": [10,20,30,40,50,60,70,80], "labels": false, "title": null, "domain": false, "grid": false, "tickSize": -5, "tickColor": "#000000"}},
"detail": {"field": "k"},
"order": {"value": null},
"color": {"field": "v", "type": "nominal", "legend": null,
 "scale": {"domain": ["m5","m4","m3","m2","m1","z","p1","p2","p3","p4","p5"],
 "range": ["#2c2c8e","#1818ec","#4682c8","#30bcbc","#48f0f0","#98e098","#f8f820","#deae40","#e6805c","#e02a1c","#8c2222"]}}
}
},
{
"data": {"name": "c"},
"mark": {"type": "line", "strokeWidth": 1, "clip": true},
"encoding": {
"x": {"field": "x", "type": "quantitative",
 "axis": {"orient": "bottom", "values": [10,20,30,40,50,60,70,80], "title": null, "domain": false, "grid": false, "tickSize": -5, "tickColor": "#000000", "labelPadding": 12, "labelFont": "Liberation Sans", "labelFontSize": 12, "labelColor": "#2a2a44"}},
"y": {"field": "y", "type": "quantitative",
 "axis": {"orient": "left", "values": [10,20,30,40,50,60,70,80], "title": null, "domain": false, "grid": false, "tickSize": -5, "tickColor": "#000000", "labelPadding": 11, "labelFont": "Liberation Sans", "labelFontSize": 12, "labelColor": "#2a2a44"}},
"detail": {"field": "k"},
"order": {"value": null},
"color": {"field": "v", "type": "nominal", "legend": null}
}
}
]
}
